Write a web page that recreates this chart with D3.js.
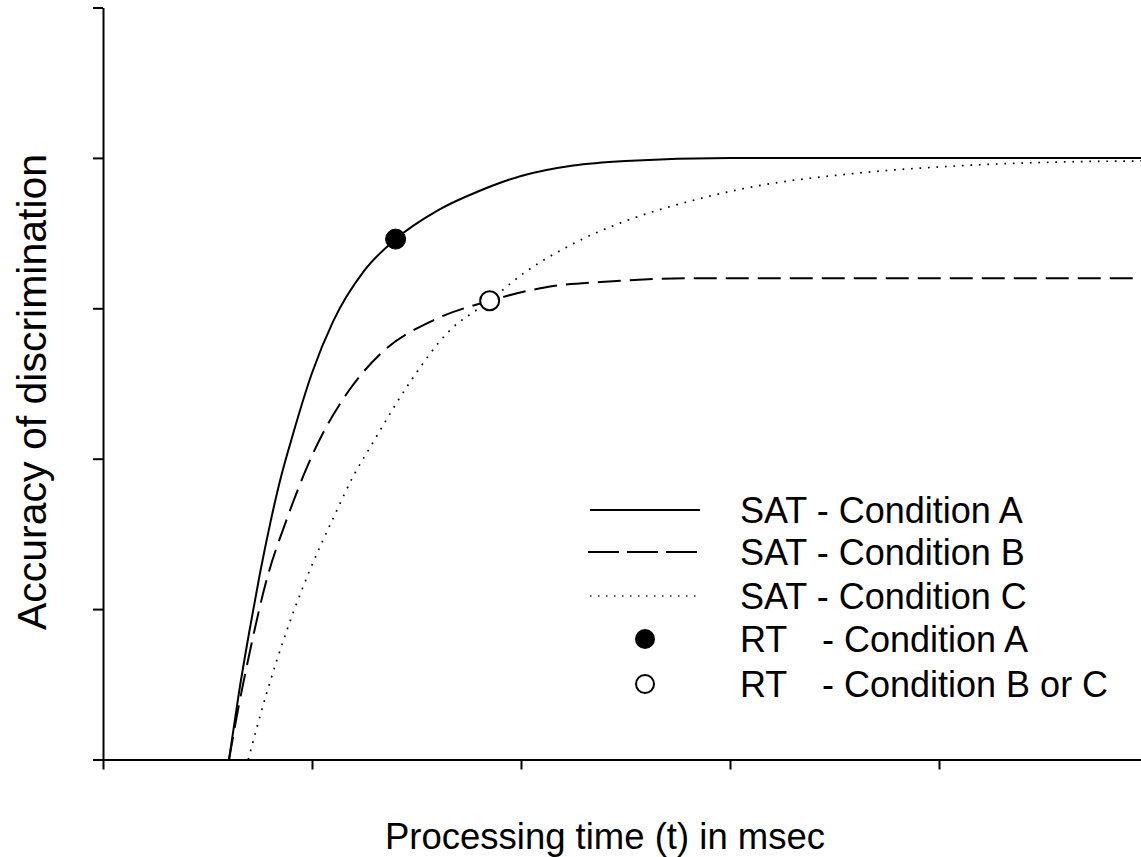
<!DOCTYPE html>
<html>
<head>
<meta charset="utf-8">
<script src="https://cdn.jsdelivr.net/npm/d3@7"></script>
<style>
  html, body { margin: 0; padding: 0; background: #fff; }
  svg { display: block; }
  text { font-family: "Liberation Sans", Arial, sans-serif; fill: #000; }
</style>
</head>
<body>
<svg id="chart" width="1141" height="857"></svg>
<script>
// ---- Data ----
const satA_t = [0.603, 0.65, 0.70, 0.75, 0.80, 0.85, 0.90, 1.00, 1.10, 1.25, 1.40, 1.60, 1.80, 2.00, 2.25, 2.50, 3.00, 4.00, 5.00];
const satA_v = [0, 0.44, 0.85, 1.23, 1.57, 1.87, 2.12, 2.57, 2.91, 3.25, 3.46, 3.65, 3.78, 3.88, 3.95, 3.98, 4.00, 4.00, 4.00];

const satB_t = [0.603, 0.65, 0.70, 0.78, 0.88, 0.96, 1.01, 1.17, 1.33, 1.58, 1.85, 2.12, 2.44, 2.84, 3.50, 5.00];
const satB_v = [0, 0.36, 0.70, 1.18, 1.60, 1.89, 2.05, 2.44, 2.70, 2.92, 3.05, 3.14, 3.18, 3.20, 3.20, 3.20];

const satC_t = [0.695, 0.785, 0.88, 0.99, 1.10, 1.20, 1.28, 1.455, 1.65, 1.85, 2.00, 2.25, 2.50, 2.83, 3.08, 3.62, 4.00, 4.50, 5.00];
const satC_v = [0, 0.45, 0.86, 1.26, 1.60, 1.89, 2.08, 2.48, 2.84, 3.05, 3.22, 3.43, 3.58, 3.72, 3.80, 3.90, 3.94, 3.97, 3.98];

const rtA = [{t: 1.40, v: 3.46}];
const rtBC = [{t: 1.85, v: 3.05}];

const xTicks = [0, 1, 2, 3, 4, 5];
const yTicks = [0, 1, 2, 3, 4, 5];

const legendLabels = ["SAT - Condition A", "SAT - Condition B", "SAT - Condition C", "RT", "RT"];
const legendLabels2 = ["", "", "", "- Condition A", "- Condition B or C"];

const xTitle = "Processing time (t) in msec";
const yTitle = "Accuracy of discrimination";

// ---- Drawing ----
const svg = d3.select("#chart");
const x = d3.scaleLinear().domain([0, 5]).range([103, 1148]);
const y = d3.scaleLinear().domain([0, 5]).range([759.5, 7.5]);

const zip = (ts, vs) => ts.map((t, i) => ({t, v: vs[i]}));
const line = d3.line().x(d => x(d.t)).y(d => y(d.v)).curve(d3.curveMonotoneX);

// axes
const gx = svg.append("g").attr("transform", `translate(0,${y(0)})`)
  .call(d3.axisBottom(x).tickValues(xTicks).tickSize(10).tickSizeOuter(0).tickFormat(""));
const gy = svg.append("g").attr("transform", `translate(${x(0)},0)`)
  .call(d3.axisLeft(y).tickValues(yTicks).tickSize(10).tickSizeOuter(0).tickFormat(""));
[gx, gy].forEach(g => {
  g.selectAll("path.domain").attr("stroke", "#000").attr("stroke-width", 2);
  g.selectAll(".tick line").attr("stroke", "#000").attr("stroke-width", 2);
});

// curves
svg.append("path").datum(zip(satA_t, satA_v)).attr("d", line)
  .attr("fill", "none").attr("stroke", "#000").attr("stroke-width", 2);
svg.append("path").datum(zip(satB_t, satB_v)).attr("d", line)
  .attr("fill", "none").attr("stroke", "#000").attr("stroke-width", 2)
  .attr("stroke-dasharray", "23,9");
svg.append("path").datum(zip(satC_t, satC_v)).attr("d", line)
  .attr("fill", "none").attr("stroke", "#000").attr("stroke-width", 1.7)
  .attr("stroke-dasharray", "1.7,6.8");

// RT points
svg.selectAll("circle.rtA").data(rtA).enter().append("circle")
  .attr("cx", d => x(d.t)).attr("cy", d => y(d.v)).attr("r", 10)
  .attr("fill", "#000").attr("stroke", "#000").attr("stroke-width", 1);
svg.selectAll("circle.rtBC").data(rtBC).enter().append("circle")
  .attr("cx", d => x(d.t)).attr("cy", d => y(d.v)).attr("r", 9.5)
  .attr("fill", "#fff").attr("stroke", "#000").attr("stroke-width", 2);

// legend
const rows = [510, 552, 596, 639, 684];
const lg = svg.append("g");
lg.append("line").attr("x1", 590).attr("x2", 700).attr("y1", rows[0]).attr("y2", rows[0])
  .attr("stroke", "#000").attr("stroke-width", 2);
lg.append("line").attr("x1", 588).attr("x2", 700).attr("y1", rows[1]).attr("y2", rows[1])
  .attr("stroke", "#000").attr("stroke-width", 2).attr("stroke-dasharray", "31,8");
lg.append("line").attr("x1", 590).attr("x2", 700).attr("y1", rows[2]).attr("y2", rows[2])
  .attr("stroke", "#000").attr("stroke-width", 1.4).attr("stroke-dasharray", "1.4,6.6");
lg.append("circle").attr("cx", 645).attr("cy", rows[3]).attr("r", 10).attr("fill", "#000");
lg.append("circle").attr("cx", 645).attr("cy", rows[4]).attr("r", 9).attr("fill", "#fff")
  .attr("stroke", "#000").attr("stroke-width", 2);

legendLabels.forEach((s, i) => {
  lg.append("text").attr("x", 740).attr("y", rows[i] + 13).attr("font-size", 36).text(s);
  if (legendLabels2[i]) {
    lg.append("text").attr("x", 822).attr("y", rows[i] + 13).attr("font-size", 36).text(legendLabels2[i]);
  }
});

// axis titles
svg.append("text").attr("x", 605).attr("y", 849).attr("text-anchor", "middle")
  .attr("font-size", 36.5).text(xTitle);
svg.append("text").attr("transform", "translate(46,392) rotate(-90)")
  .attr("text-anchor", "middle").attr("font-size", 41).text(yTitle);
</script>
</body>
</html>
